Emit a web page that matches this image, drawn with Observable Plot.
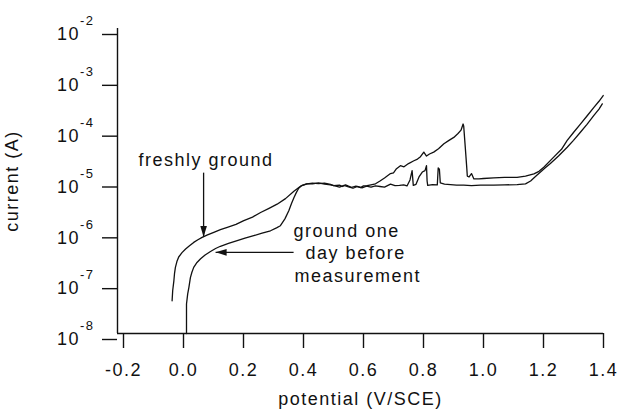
<!DOCTYPE html>
<html><head><meta charset="utf-8">
<script src="https://cdn.jsdelivr.net/npm/d3@7"></script>
<script src="https://cdn.jsdelivr.net/npm/@observablehq/plot@0.6"></script>
<style>body{margin:0;background:#fff}</style>
</head><body><div id="chart"></div>
<script>
// Tick values
const xTicks = [-0.2, 0.0, 0.2, 0.4, 0.6, 0.8, 1.0, 1.2, 1.4];
const yTicks = [1e-8, 1e-7, 1e-6, 1e-5, 1e-4, 1e-3, 1e-2];

// "freshly ground" curve: potential (V/SCE) and current (A)
const freshV = [-0.038,-0.036,-0.032,-0.030,-0.027,-0.022,-0.016,-0.005,0.007,0.020,0.034,0.048,0.062,0.080,0.101,0.123,0.146,0.175,0.201,0.230,0.257,0.285,0.312,0.340,0.368,0.390,0.412,
0.43,0.45,0.47,0.49,0.50,0.52,0.53,0.54,0.55,0.56,0.575,0.59,0.60,0.612,0.625,0.64,0.655,0.67,0.69,0.70,0.71,0.723,0.735,0.75,0.768,0.78,0.79,0.801,0.81,0.82,0.834,0.85,0.868,0.885,0.901,0.915,0.925,0.932,0.934,0.940,0.944,0.946,0.952,0.960,0.968,0.985,1.0,1.034,1.07,1.112,1.14,1.168,1.185,1.201,1.234,1.26,1.279,1.30,1.323,1.345,1.368,1.385,1.399];
const freshI = [4.4e-8,7.0e-8,1.1e-7,1.5e-7,2.0e-7,2.6e-7,3.2e-7,3.9e-7,4.6e-7,5.3e-7,6.2e-7,7.0e-7,7.8e-7,8.7e-7,9.8e-7,1.1e-6,1.23e-6,1.4e-6,1.66e-6,1.95e-6,2.4e-6,2.9e-6,3.5e-6,4.5e-6,6.3e-6,7.9e-6,8.8e-6,
9.1e-6,8.9e-6,9.1e-6,8.6e-6,8.1e-6,8.3e-6,7.8e-6,8.4e-6,7.9e-6,7.5e-6,7.9e-6,7.4e-6,8.0e-6,8.1e-6,8.4e-6,8.8e-6,1.0e-5,1.15e-5,1.4e-5,1.45e-5,1.75e-5,2.0e-5,1.9e-5,2.2e-5,2.5e-5,2.7e-5,3.0e-5,3.7e-5,3.1e-5,3.4e-5,3.7e-5,4.3e-5,5.4e-5,6.3e-5,7.2e-5,8.6e-5,1.0e-4,1.32e-4,1.2e-4,4.0e-5,1.9e-5,1.25e-5,1.2e-5,1.4e-5,1.1e-5,1.1e-5,1.12e-5,1.15e-5,1.18e-5,1.18e-5,1.25e-5,1.38e-5,1.55e-5,1.86e-5,2.95e-5,4.2e-5,6.3e-5,9.0e-5,1.32e-4,1.9e-4,2.8e-4,3.7e-4,4.8e-4];

// "ground one day before measurement" curve
const dayV = [0.010,0.010,0.014,0.018,0.023,0.028,0.034,0.045,0.057,0.072,0.090,0.107,0.123,0.150,0.179,0.205,0.234,0.262,0.290,0.310,0.323,0.338,0.351,0.360,0.368,0.376,0.384,0.395,0.410,
0.43,0.45,0.47,0.49,0.505,0.52,0.535,0.55,0.565,0.58,0.595,0.61,0.625,0.64,0.655,0.67,0.69,0.705,0.72,0.734,0.745,0.755,0.762,0.766,0.775,0.785,0.796,0.805,0.81,0.812,0.814,0.83,0.846,0.849,0.853,0.856,0.87,0.89,0.91,0.934,0.96,0.99,1.034,1.07,1.112,1.14,1.157,1.175,1.19,1.205,1.223,1.25,1.279,1.30,1.323,1.345,1.368,1.385,1.396];
const dayI = [1.0e-8,3.8e-8,6.0e-8,8.1e-8,1.26e-7,1.6e-7,2.0e-7,2.5e-7,2.95e-7,3.5e-7,4.1e-7,4.7e-7,5.2e-7,5.9e-7,6.7e-7,7.5e-7,8.4e-7,9.4e-7,1.05e-6,1.2e-6,1.32e-6,1.8e-6,2.6e-6,3.6e-6,4.7e-6,5.9e-6,7.2e-6,8.2e-6,8.8e-6,
8.8e-6,9.2e-6,8.7e-6,8.4e-6,8.0e-6,7.6e-6,8.2e-6,7.7e-6,7.2e-6,7.8e-6,7.3e-6,7.9e-6,7.6e-6,8.0e-6,7.8e-6,7.6e-6,8.7e-6,8.1e-6,8.2e-6,8.4e-6,8.0e-6,1.05e-5,1.6e-5,8.2e-6,8.6e-6,1.2e-5,1.5e-5,1.6e-5,2.0e-5,1.0e-5,8.2e-6,8.5e-6,8.4e-6,1.8e-5,1.7e-5,9.2e-6,8.7e-6,8.5e-6,8.3e-6,8.3e-6,8.1e-6,8.3e-6,8.3e-6,8.4e-6,8.5e-6,8.8e-6,1.0e-5,1.25e-5,1.5e-5,1.8e-5,2.2e-5,3.1e-5,4.6e-5,6.3e-5,9.1e-5,1.3e-4,1.95e-4,2.6e-4,3.3e-4];

// Annotation texts (left-anchored, baseline at the given current)
const noteText = ["freshly ground", "ground one", "day before", "measurement"];
const noteV = [-0.150, 0.367, 0.407, 0.370];
const noteI = [2.01e-5, 8.05e-7, 2.97e-7, 1.05e-7];

// Annotation arrows
const arrowV1 = [0.067, 0.367];
const arrowI1 = [1.46e-5, 3.95e-7];
const arrowV2 = [0.067, 0.107];
const arrowI2 = [7.87e-7, 3.95e-7];

const fresh = freshV.map((v, k) => ({v, i: freshI[k]}));
const day = dayV.map((v, k) => ({v, i: dayI[k]}));
const notes = noteText.map((t, k) => ({t, v: noteV[k], i: noteI[k]}));
const arrows = arrowV1.map((v, k) => ({x1: v, y1: arrowI1[k], x2: arrowV2[k], y2: arrowI2[k]}));

function headMarker(color, context) {
  return d3.create("svg:marker")
    .attr("viewBox", "-11 -4 12 8")
    .attr("markerUnits", "userSpaceOnUse")
    .attr("markerWidth", 12).attr("markerHeight", 8)
    .attr("refX", 0).attr("refY", 0)
    .attr("orient", "auto")
    .call(m => m.append("path").attr("d", "M-11,-3.3L0,0L-11,3.3Z").attr("fill", color).attr("stroke", "none"))
    .node();
}

const ink = "#111";
const chart = Plot.plot({
  width: 622, height: 413,
  marginLeft: 117, marginRight: 19, marginTop: 28, marginBottom: 80,
  style: {fontFamily: "'Liberation Sans', Arial, Helvetica, sans-serif", fontSize: "18px", letterSpacing: "1.5px", color: ink, background: "#fff"},
  x: {domain: [-0.22, 1.4]},
  y: {type: "log", domain: [1e-8, 1e-2]},
  marks: [
    Plot.axisX({ticks: xTicks, tickFormat: d => d.toFixed(1), tickSize: 15, tickPadding: 15, strokeWidth: 1.4,
      label: "potential (V/SCE)", labelAnchor: "center", labelArrow: "none", labelOffset: 71}),
    Plot.axisY({ticks: yTicks, tickFormat: d => "10^" + Math.round(Math.log10(d)), tickSize: 15, tickPadding: 8, dy: 6, strokeWidth: 1.4,
      label: "current (A)", labelAnchor: "center", labelArrow: "none", labelOffset: 112}),
    Plot.ruleX([-0.22], {stroke: ink, strokeWidth: 1.4}),
    Plot.ruleY([1e-8], {stroke: ink, strokeWidth: 1.4}),
    Plot.line(fresh, {x: "v", y: "i", stroke: ink, strokeWidth: 1.3}),
    Plot.line(day, {x: "v", y: "i", stroke: ink, strokeWidth: 1.3}),
    Plot.link(arrows, {x1: "x1", y1: "y1", x2: "x2", y2: "y2", stroke: ink, strokeWidth: 1.3, markerEnd: headMarker}),
    Plot.text(notes, {x: "v", y: "i", text: "t", textAnchor: "start", lineAnchor: "bottom", fill: ink, fontSize: 18})
  ]
});

d3.select(chart).selectAll('g[aria-label="y-axis tick label"] text').each(function() {
  const parts = this.textContent.split("^");
  this.textContent = "";
  const s = d3.select(this);
  s.append("tspan").text(parts[0]);
  s.append("tspan").attr("dy", -15).attr("font-size", 13).text(parts[1]);
});

document.getElementById("chart").append(chart);
</script>
</body></html>
